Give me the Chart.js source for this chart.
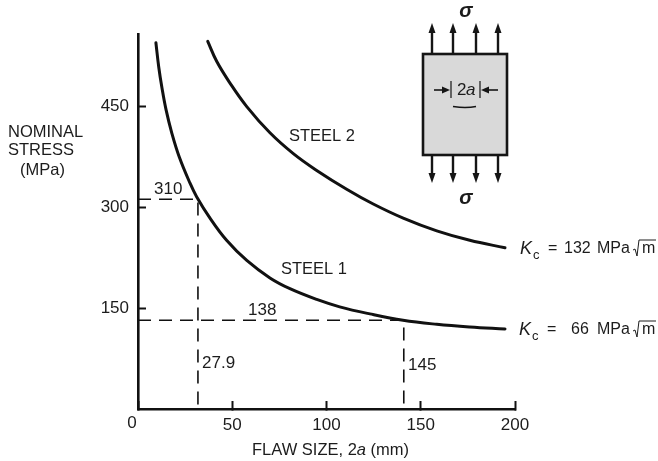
<!DOCTYPE html>
<html>
<head>
<meta charset="utf-8">
<style>
  html, body { margin: 0; padding: 0; background: #fff; }
  canvas { display: block; }
</style>
<script src="https://cdn.jsdelivr.net/npm/chart.js@4/dist/chart.umd.min.js"></script>
</head>
<body>
<canvas id="grafico" width="658" height="461"></canvas>
<script>
const xTicks = [0, 50, 100, 150, 200];
const yTicks = [150, 300, 450];

const steel1Flaw = [9.5, 11, 12.7, 14.9, 17.9, 21.9, 27.6, 31.1, 38.2, 47, 57.7, 70, 80.6, 94.8, 107, 123, 140.6, 158.5, 176, 194.7];
const steel1Stress = [545, 509, 478, 445, 411, 375, 336, 316, 284, 251, 221, 195, 179, 163, 152, 141.5, 132, 126, 122, 119];
const steel2Flaw = [37, 41.8, 48.8, 57.7, 70, 82.4, 94.8, 110.7, 124.8, 140.7, 158.5, 176, 194.7];
const steel2Stress = [547, 517, 485, 450, 411, 380, 355, 327, 305, 284, 265, 251, 240];

const dashFlaw1 = [0, 31.8, 31.8];
const dashStress1 = [312, 312, 0];
const dashFlaw2 = [0, 141, 141];
const dashStress2 = [132, 132, 0];

const INK = '#1c1c1c';
const SANS = '"Liberation Sans", Arial, sans-serif';

function pontos(xs, ys) {
    return xs.map((x, i) => ({ x: x, y: ys[i] }));
}

function curva(xs, ys) {
    return {
        data: pontos(xs, ys),
        showLine: true,
        borderColor: '#111',
        borderWidth: 3,
        pointRadius: 0,
        tension: 0.4,
        borderCapStyle: 'round',
    };
}

function tracejada(xs, ys) {
    return {
        data: pontos(xs, ys),
        showLine: true,
        borderColor: '#111',
        borderWidth: 1.6,
        borderDash: [13, 8],
        pointRadius: 0,
        tension: 0,
    };
}

function texto(ctx, str, x, y, size, align, font) {
    ctx.font = (font || '') + ' ' + size + 'px ' + SANS;
    ctx.textAlign = align || 'left';
    ctx.textBaseline = 'middle';
    ctx.fillText(str, x, y);
}

function seta(ctx, x, y0, y1) {
    const dir = y1 > y0 ? 1 : -1;
    ctx.lineWidth = 2.4;
    ctx.beginPath();
    ctx.moveTo(x, y0);
    ctx.lineTo(x, y1 - dir * 6);
    ctx.stroke();
    ctx.beginPath();
    ctx.moveTo(x, y1);
    ctx.lineTo(x - 3.5, y1 - dir * 10);
    ctx.lineTo(x + 3.5, y1 - dir * 10);
    ctx.closePath();
    ctx.fill();
}

function setaH(ctx, x0, x1, y) {
    const dir = x1 > x0 ? 1 : -1;
    ctx.lineWidth = 1.6;
    ctx.beginPath();
    ctx.moveTo(x0, y);
    ctx.lineTo(x1 - dir * 4, y);
    ctx.stroke();
    ctx.beginPath();
    ctx.moveTo(x1, y);
    ctx.lineTo(x1 - dir * 8, y - 3.5);
    ctx.lineTo(x1 - dir * 8, y + 3.5);
    ctx.closePath();
    ctx.fill();
}

function kc(ctx, y, valor, xValor, xK) {
    ctx.fillStyle = INK;
    ctx.strokeStyle = INK;
    texto(ctx, 'K', xK, y, 18, 'left', 'italic');
    texto(ctx, 'c', xK + 13, y + 6, 13);
    texto(ctx, '=', xK + 28, y, 16);
    texto(ctx, valor, xValor, y, 16);
    texto(ctx, 'MPa', 597, y, 16);
    // raiz de m
    ctx.lineWidth = 1;
    ctx.beginPath();
    ctx.moveTo(633, y + 1);
    ctx.lineTo(635, y);
    ctx.lineTo(637, y + 7);
    ctx.lineTo(639, y - 9);
    ctx.lineTo(656, y - 9);
    ctx.stroke();
    texto(ctx, 'm', 642, y, 16);
}

function desenhaEsquema(ctx) {
    ctx.fillStyle = '#d9d9d9';
    ctx.fillRect(423, 54, 84, 101);
    ctx.strokeStyle = '#151515';
    ctx.lineWidth = 2.6;
    ctx.strokeRect(423, 54, 84, 101);

    ctx.fillStyle = '#151515';
    [432, 453, 476, 498].forEach((x) => {
        seta(ctx, x, 53, 23);
        seta(ctx, x, 156, 183);
    });

    setaH(ctx, 434, 450, 90);
    setaH(ctx, 498, 481, 90);
    ctx.lineWidth = 1.2;
    ctx.beginPath();
    ctx.moveTo(451, 81);
    ctx.lineTo(451, 98);
    ctx.moveTo(480, 81);
    ctx.lineTo(480, 98);
    ctx.stroke();

    // trinca
    ctx.lineWidth = 1.5;
    ctx.beginPath();
    ctx.moveTo(453, 106.5);
    ctx.quadraticCurveTo(460, 107.5, 465, 107.5);
    ctx.quadraticCurveTo(471, 107.5, 476, 106.5);
    ctx.stroke();

    ctx.fillStyle = INK;
    texto(ctx, '2', 457, 90, 17);
    texto(ctx, 'a', 466, 90, 17, 'left', 'italic');

    texto(ctx, 'σ', 466, 11, 20, 'center', 'italic bold');
    texto(ctx, 'σ', 466, 198, 20, 'center', 'italic bold');
}

const anotacoes = {
    id: 'anotacoes',
    afterDraw(chart) {
        const ctx = chart.ctx;
        ctx.save();
        ctx.fillStyle = INK;

        texto(ctx, '0', 132, 423, 17, 'center');

        texto(ctx, 'NOMINAL', 8, 132, 16.5);
        texto(ctx, 'STRESS', 8, 150, 16.5);
        texto(ctx, '(MPa)', 20, 170, 16.5);

        texto(ctx, 'FLAW SIZE, 2', 252, 450, 16.5);
        const larg = ctx.measureText('FLAW SIZE, 2').width;
        texto(ctx, 'a', 252 + larg, 450, 16.5, 'left', 'italic');
        const largA = ctx.measureText('a').width;
        texto(ctx, ' (mm)', 252 + larg + largA, 450, 16.5);

        texto(ctx, 'STEEL 2', 289, 136, 16.5);
        texto(ctx, 'STEEL 1', 281, 269, 16.5);

        texto(ctx, '310', 154, 189, 17);
        texto(ctx, '138', 248, 310, 17);
        texto(ctx, '27.9', 202, 363, 17);
        texto(ctx, '145', 408, 365, 17);

        kc(ctx, 249, '132', 564, 520);
        kc(ctx, 330, '66', 571, 519);

        desenhaEsquema(ctx);
        ctx.restore();
    },
};

new Chart(document.getElementById('grafico').getContext('2d'), {
    type: 'scatter',
    data: {
        datasets: [
            curva(steel1Flaw, steel1Stress),
            curva(steel2Flaw, steel2Stress),
            tracejada(dashFlaw1, dashStress1),
            tracejada(dashFlaw2, dashStress2),
        ],
    },
    options: {
        responsive: false,
        animation: false,
        layout: { padding: { top: 34, right: 143 } },
        plugins: { legend: { display: false }, tooltip: { enabled: false } },
        scales: {
            x: {
                type: 'linear',
                min: 0,
                max: 200,
                afterBuildTicks: (scale) => { scale.ticks = xTicks.map((v) => ({ value: v })); },
                afterFit: (scale) => { scale.height = 52; },
                grid: { drawOnChartArea: false, tickLength: -8, tickWidth: 2, tickColor: '#111' },
                border: { color: '#111', width: 2.6 },
                ticks: {
                    color: INK,
                    font: { family: SANS, size: 17 },
                    padding: 14,
                    maxRotation: 0,
                    callback: (v) => (v === 0 ? '' : v),
                },
            },
            y: {
                type: 'linear',
                min: 0,
                max: 558,
                afterBuildTicks: (scale) => { scale.ticks = yTicks.map((v) => ({ value: v })); },
                afterFit: (scale) => { scale.width = 138; },
                grid: { drawOnChartArea: false, tickLength: -8, tickWidth: 2, tickColor: '#111' },
                border: { color: '#111', width: 2.6 },
                ticks: {
                    color: INK,
                    font: { family: SANS, size: 17 },
                    padding: 17,
                },
            },
        },
    },
    plugins: [anotacoes],
});
</script>
</body>
</html>
